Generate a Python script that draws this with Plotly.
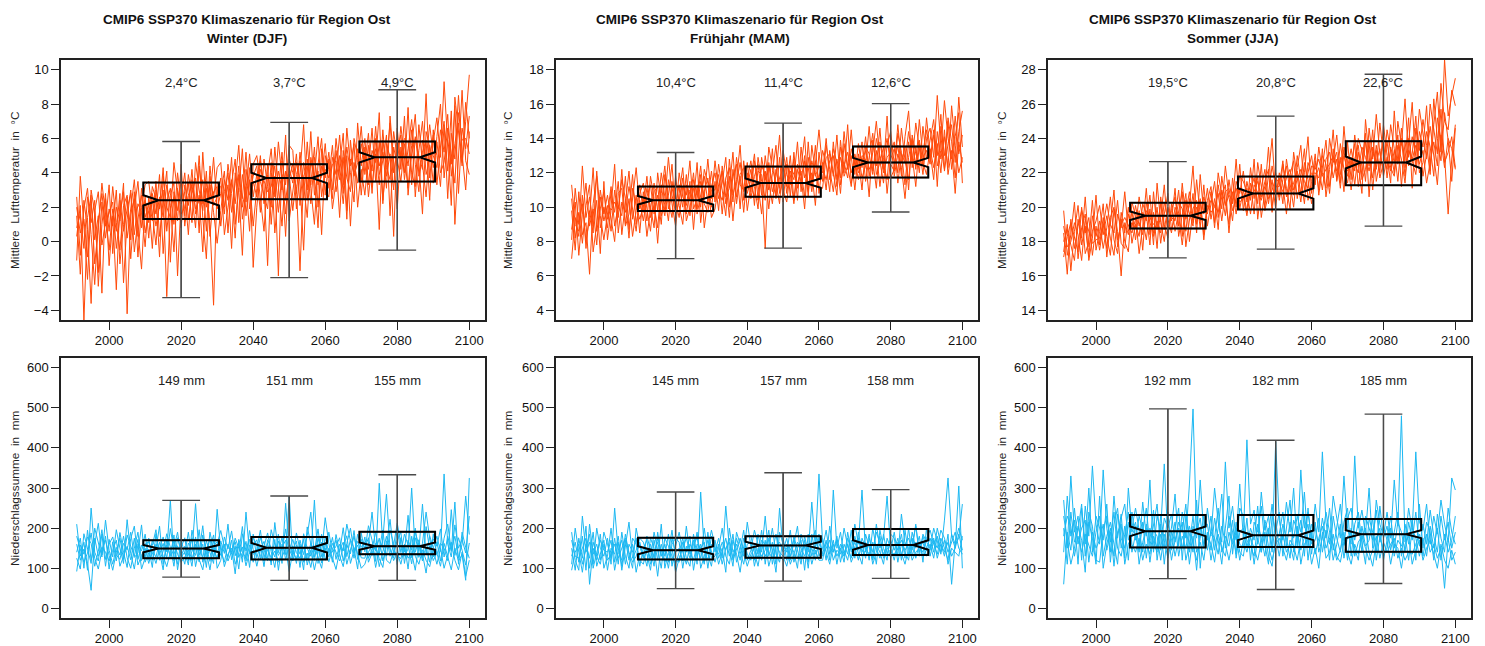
import plotly.graph_objects as go

# ---------------------------------------------------------------- data
FIRST_YEAR = 1991

# Winter (DJF) mean temperature, one list per model run (1991..2100)
TEMP_DJF = [
    [2.6, -0.8, 1.9, 3.1, 0.4, -2.5, 1.2, 2.8, 0.9, 1.7,
     2.3, -0.4, 1.5, 2.9, 0.2, 1.8, 3.6, 0.7, -1.6, 2.4,
     1.1, 3.2, 2.5, -0.9, 3.8, 2.0, 1.4, 4.6, 2.9, 0.8,
     3.3, 2.1, 4.2, 1.6, 2.7, -0.6, 3.5, 2.4, 4.9, 1.9,
     2.8, 4.1, 0.5, 3.6, 2.2, 4.4, 1.3, 3.0, 5.1, 2.6,
     3.9, 1.7, 4.8, 3.2, 2.0, 5.5, 3.4, 0.9, 4.1, 3.6,
     4.5, 2.8, 5.2, 3.1, 1.4, 4.9, 3.8, 6.1, 2.6, 4.2,
     3.7, 5.6, 2.9, 4.4, 6.3, 1.8, 4.8, 3.9, 5.4, 2.7,
     5.1, 4.2, 6.6, 3.5, 5.8, 2.4, 4.9, 6.9, 4.0, 5.3,
     6.2, 3.6, 5.4, 7.1, 4.5, 2.9, 5.9, 4.7, 6.8, 5.0,
     4.3, 6.5, 5.2, 7.4, 3.8, 5.7, 6.9, 4.6, 8.1, 6.0],
    [0.3, 2.1, -4.6, 1.4, 2.7, -1.3, 0.8, 3.4, 1.6, -0.5,
     1.9, 0.6, 2.8, -2.4, 1.3, 3.0, 0.4, 2.2, 1.7, -0.3,
     2.6, 1.2, 3.5, 0.3, 2.4, 4.1, -1.2, 2.9, 1.8, 3.6,
     1.5, 3.9, 2.6, 0.8, 4.4, 2.2, 3.1, 1.0, -3.7, 3.4,
     3.2, 1.6, 4.5, 2.8, 0.2, 3.9, 2.5, 5.2, 1.9, 3.5,
     2.6, 4.7, 3.3, -1.4, 4.0, 2.9, 5.8, 3.7, 1.6, 4.3,
     3.4, 5.1, 2.1, 4.6, 3.0, 6.4, 2.7, 4.1, 0.4, 5.0,
     4.2, 2.5, 5.3, 3.6, 4.9, 1.3, 5.9, 3.8, 4.6, 6.7,
     3.9, 5.6, 2.8, 6.0, 4.4, 5.2, 3.1, 7.3, 4.7, 1.9,
     5.5, 4.0, 7.8, 3.3, 6.1, 5.0, 4.2, 8.6, 3.7, 5.8,
     7.2, 4.9, 9.3, 5.6, 2.1, 8.4, 6.2, 4.4, 7.0, 9.7],
    [1.5, -1.9, 2.4, 0.7, -3.6, 1.8, 2.9, -0.2, 1.1, 3.3,
     -0.7, 2.0, 1.2, 3.4, -4.2, 1.6, 2.5, 0.3, 3.1, 1.4,
     2.2, -0.4, 3.0, 1.9, 4.3, 0.6, 2.7, 3.4, -2.0, 2.5,
     4.0, 1.3, 2.8, 3.7, 0.5, 5.2, 2.0, 3.3, 1.7, -0.1,
     1.8, 3.6, 2.4, 4.9, 1.0, 3.1, -0.8, 4.2, 2.7, 3.8,
     4.4, 2.3, 0.6, 3.9, 5.4, 2.6, 4.1, 3.0, 6.2, 1.2,
     2.9, 4.6, 3.5, -0.5, 4.8, 3.3, 5.5, 2.0, 4.4, 3.7,
     5.2, 3.0, 6.0, 4.1, 2.2, 5.0, 0.9, 4.6, 3.4, 5.7,
     4.6, 6.3, 3.2, 5.1, 0.7, 5.9, 4.3, 3.6, 6.4, 4.8,
     3.5, 5.7, 4.4, 6.5, 2.6, 5.3, 7.0, 3.9, 4.8, 6.2,
     5.0, 3.2, 6.8, 4.1, 7.6, 1.0, 5.3, 8.8, 4.7, 3.9],
    [-1.1, 3.8, 0.9, -2.2, 2.2, 0.1, 1.5, -3.0, 2.5, 0.6,
     3.2, 1.1, -0.5, 2.1, 2.7, -1.0, 1.9, 3.5, 0.8, 2.6,
     0.2, 2.8, 1.6, 3.9, -0.7, 2.3, 3.1, 1.0, 4.0, 2.2,
     2.9, 0.4, 3.6, 2.3, 5.0, 1.4, -1.0, 3.8, 2.5, 4.3,
     4.6, 2.0, 3.3, -0.4, 4.0, 2.9, 5.4, 1.5, 3.6, 0.9,
     3.1, 5.0, 2.2, 4.5, 1.0, 3.8, -2.0, 4.7, 3.3, 5.6,
     5.3, 1.9, 4.0, 6.8, 2.4, 4.7, 3.6, 0.8, 5.4, 3.0,
     2.6, 4.9, 3.9, 6.2, 3.3, 5.5, 4.0, 2.3, 6.9, 4.4,
     6.0, 3.3, 5.3, 4.6, 7.5, 2.2, 5.7, 4.9, 3.0, 6.6,
     4.2, 7.3, 2.7, 5.1, 6.0, 4.6, 1.6, 6.4, 5.5, 3.4,
     6.1, 8.0, 3.7, 5.9, 4.5, 7.9, 2.8, 6.6, 5.4, 7.3],
    [2.0, 0.5, 1.3, -0.9, 3.0, 1.7, -1.8, 2.3, 0.2, 1.9,
     0.9, 3.0, -1.3, 1.0, 2.6, 0.1, 2.9, -0.9, 2.0, 3.3,
     3.5, 1.7, -0.2, 2.6, 1.4, 3.3, 2.1, -0.6, 3.1, 1.6,
     2.0, 3.4, 1.1, 4.6, 3.0, 1.8, 4.1, 0.3, 2.9, 3.2,
     0.9, 2.9, 4.0, 1.7, 3.4, 5.6, 2.0, 3.2, 0.6, 4.5,
     5.0, 3.5, 2.7, 1.9, 4.6, 0.5, 3.0, 5.2, 2.4, 3.9,
     1.8, 3.9, 4.7, 2.5, 5.8, 3.1, 1.0, 4.5, 6.0, 2.7,
     4.8, 1.9, 3.5, 5.0, 2.8, 6.6, 4.4, 5.7, 2.0, 4.2,
     2.7, 5.0, 4.1, 6.7, 3.9, 4.7, 6.2, 1.5, 5.5, 4.4,
     6.7, 4.8, 3.1, 5.6, 7.4, 3.8, 5.2, 5.9, 2.4, 6.5,
     3.3, 5.5, 7.0, 2.5, 6.3, 4.8, 8.5, 5.1, 3.0, 6.4],
    [0.8, 1.6, -0.4, 2.6, 1.1, 2.4, -2.6, 1.0, 2.8, -1.4,
     1.5, -2.8, 2.4, 0.6, 1.9, 2.8, -0.6, 1.3, 2.7, 0.5,
     1.8, 2.4, 0.9, 2.1, 3.0, -3.2, 1.9, 2.6, 1.2, 4.5,
     0.9, 2.7, 3.3, 1.9, 2.4, 3.6, 0.6, 4.4, 2.1, 2.6,
     3.7, 0.4, 2.0, 3.3, 4.8, 1.1, 3.9, 2.3, 4.3, -1.5,
     2.0, 4.2, 3.6, 2.9, 3.2, 4.4, 1.7, 3.9, 0.3, 4.8,
     4.0, 3.2, -1.7, 3.8, 4.4, 2.2, 4.9, 3.3, 3.8, 5.7,
     3.1, 4.5, 4.7, 1.4, 5.3, 3.7, 2.9, 6.0, 4.9, 3.5,
     5.5, 2.6, 4.7, 5.4, 3.3, 6.5, 3.8, 5.1, 0.3, 5.9,
     4.9, 6.0, 5.8, 4.0, 3.2, 6.8, 4.5, 2.6, 5.6, 4.3,
     5.8, 4.0, 4.6, 6.6, 5.1, 3.4, 7.5, 5.9, 6.0, 5.1],
]

# Spring (MAM) mean temperature
TEMP_MAM = [
    [8.7, 10.3, 7.2, 9.6, 11.4, 8.9, 9.9, 7.8, 10.6, 9.2,
     10.1, 8.6, 11.0, 9.4, 12.2, 9.0, 10.5, 8.3, 9.8, 11.3,
     9.7, 11.1, 10.0, 8.8, 12.0, 10.4, 9.5, 11.6, 10.2, 8.9,
     10.8, 12.3, 9.6, 11.0, 10.3, 12.6, 9.1, 10.9, 11.7, 10.0,
     11.5, 9.8, 12.4, 10.6, 11.1, 13.2, 10.2, 11.8, 9.7, 12.0,
     10.9, 12.7, 11.3, 9.6, 12.1, 11.0, 13.4, 10.5, 11.7, 12.3,
     11.2, 13.0, 10.4, 12.5, 11.8, 9.9, 12.9, 11.4, 13.6, 10.8,
     12.6, 11.0, 13.3, 12.0, 10.7, 13.9, 11.8, 12.4, 11.2, 13.1,
     12.2, 13.8, 11.5, 12.9, 14.3, 11.9, 12.6, 13.5, 10.8, 12.8,
     13.4, 12.0, 14.6, 12.7, 11.6, 13.9, 12.4, 15.1, 12.9, 13.3,
     12.5, 14.2, 13.0, 15.4, 12.1, 13.7, 14.8, 12.6, 16.4, 13.5],
    [9.8, 7.5, 10.9, 8.4, 9.1, 6.1, 10.2, 11.8, 8.8, 10.0,
     8.8, 10.9, 9.7, 11.5, 8.4, 10.2, 12.1, 9.3, 10.7, 8.5,
     10.9, 9.2, 11.8, 10.5, 7.9, 10.8, 12.4, 9.9, 11.1, 10.3,
     9.4, 11.2, 10.7, 12.7, 9.9, 10.5, 11.9, 8.8, 10.6, 12.1,
     10.3, 12.5, 11.0, 9.5, 12.8, 10.7, 11.6, 13.6, 10.4, 11.2,
     12.2, 10.1, 12.9, 11.5, 7.6, 12.6, 10.9, 11.8, 14.2, 11.0,
     10.3, 12.1, 11.6, 13.8, 10.9, 12.7, 11.3, 12.0, 10.1, 13.2,
     11.5, 13.6, 12.2, 10.9, 12.8, 11.7, 14.4, 12.3, 13.0, 11.0,
     13.1, 11.7, 12.4, 14.7, 12.1, 13.3, 11.2, 12.9, 14.0, 12.5,
     12.1, 14.3, 13.2, 11.3, 13.8, 12.6, 14.9, 13.4, 11.9, 14.0,
     14.6, 12.9, 16.5, 13.5, 12.2, 15.2, 13.8, 11.7, 14.4, 15.6],
    [7.0, 9.4, 8.3, 10.7, 7.6, 9.8, 8.5, 12.1, 9.5, 8.1,
     9.6, 11.2, 8.9, 10.1, 9.5, 11.8, 8.7, 10.4, 12.3, 9.9,
     10.5, 8.3, 10.0, 11.4, 9.8, 12.0, 10.6, 9.2, 11.5, 10.1,
     11.3, 10.0, 11.9, 9.5, 11.6, 10.7, 12.4, 10.2, 9.7, 11.2,
     12.0, 10.5, 11.4, 12.9, 10.0, 11.8, 12.5, 9.9, 12.7, 10.8,
     11.6, 13.1, 10.4, 12.4, 11.9, 9.9, 12.0, 13.6, 10.8, 11.5,
     12.9, 10.6, 13.2, 11.1, 12.3, 14.1, 10.9, 12.7, 11.8, 12.4,
     12.0, 14.0, 11.6, 13.4, 12.6, 10.8, 13.7, 12.2, 14.5, 11.9,
     13.7, 12.3, 14.1, 11.8, 13.2, 15.0, 12.7, 11.4, 13.6, 14.4,
     12.5, 13.6, 11.8, 14.1, 15.6, 12.3, 13.5, 12.0, 14.7, 12.8,
     13.9, 15.1, 12.4, 13.3, 16.2, 14.0, 12.8, 15.3, 13.1, 14.2],
    [10.5, 8.2, 9.7, 7.9, 10.1, 11.3, 7.4, 9.0, 11.0, 9.6,
     10.7, 9.2, 8.0, 10.8, 11.1, 8.9, 9.6, 11.9, 9.0, 10.4,
     9.2, 10.6, 11.3, 9.6, 10.7, 9.0, 11.9, 10.4, 9.4, 11.8,
     10.1, 9.0, 11.3, 10.4, 12.0, 9.6, 10.8, 11.8, 10.3, 11.0,
     11.0, 11.9, 9.6, 11.7, 12.3, 10.3, 12.9, 11.3, 11.0, 12.6,
     10.5, 11.8, 12.5, 10.7, 13.0, 11.4, 10.2, 12.2, 11.1, 13.3,
     11.9, 11.3, 12.8, 10.4, 13.5, 11.7, 12.3, 10.9, 12.7, 11.6,
     13.3, 12.5, 10.9, 13.8, 11.6, 12.9, 12.0, 14.8, 11.4, 12.7,
     11.6, 13.0, 12.8, 10.6, 13.9, 12.4, 14.6, 12.0, 12.9, 13.2,
     13.8, 11.4, 13.1, 12.6, 14.4, 13.0, 11.2, 13.7, 12.4, 15.2,
     13.2, 11.6, 14.4, 12.8, 14.1, 12.3, 15.9, 13.6, 12.0, 12.9],
    [8.1, 11.1, 9.0, 10.2, 8.0, 9.4, 12.3, 8.6, 9.9, 10.9,
     9.3, 10.0, 12.5, 8.5, 10.3, 9.7, 11.2, 10.0, 8.6, 10.8,
     11.4, 9.9, 8.6, 10.9, 11.2, 9.5, 10.3, 12.9, 10.7, 9.7,
     12.0, 10.6, 10.1, 11.5, 8.7, 11.3, 10.0, 12.2, 11.4, 9.4,
     9.9, 11.3, 12.1, 10.2, 11.8, 9.2, 11.4, 12.6, 10.9, 11.6,
     12.7, 11.2, 9.9, 12.9, 11.6, 12.4, 11.4, 10.6, 12.9, 10.3,
     12.5, 11.9, 10.2, 12.2, 11.5, 13.0, 10.6, 13.6, 12.0, 11.0,
     11.1, 12.9, 13.1, 11.8, 14.2, 11.3, 12.6, 11.7, 13.4, 12.5,
     12.8, 11.0, 13.5, 13.1, 11.9, 14.0, 13.0, 12.2, 15.3, 11.7,
     12.2, 14.8, 12.6, 13.5, 11.0, 14.2, 13.1, 12.5, 13.2, 14.5,
     12.7, 14.5, 11.2, 14.7, 13.0, 15.0, 12.2, 14.1, 15.5, 11.4],
    [11.3, 9.0, 8.6, 12.4, 9.4, 10.6, 8.9, 10.4, 7.3, 11.5,
     8.1, 9.8, 10.3, 9.9, 11.6, 10.5, 8.2, 11.1, 10.1, 9.3,
     10.0, 11.8, 9.4, 10.1, 8.8, 11.3, 9.8, 10.7, 12.5, 9.5,
     10.4, 11.7, 9.2, 10.0, 11.1, 9.9, 11.5, 10.6, 12.8, 10.5,
     12.7, 10.9, 10.4, 11.5, 9.4, 12.2, 10.6, 11.9, 12.3, 9.8,
     11.3, 10.6, 12.1, 11.9, 10.4, 13.5, 12.3, 11.4, 10.2, 12.8,
     10.8, 12.4, 11.9, 11.4, 12.1, 10.6, 13.8, 11.2, 12.5, 14.5,
     12.3, 11.6, 12.7, 13.0, 11.2, 13.5, 12.4, 13.2, 12.0, 12.9,
     12.0, 12.6, 13.3, 12.2, 12.7, 11.1, 13.8, 12.5, 11.6, 13.9,
     11.8, 13.1, 12.3, 10.5, 12.9, 14.0, 12.2, 13.9, 12.6, 11.9,
     13.4, 12.3, 13.7, 12.0, 14.5, 11.9, 13.3, 10.8, 13.8, 12.6],
]

# Summer (JJA) mean temperature
TEMP_JJA = [
    [17.4, 19.0, 16.3, 18.6, 20.1, 17.8, 18.9, 17.1, 19.5, 18.3,
     19.2, 17.6, 18.8, 20.6, 18.1, 17.3, 19.7, 18.5, 20.0, 17.9,
     19.0, 18.3, 20.2, 19.6, 17.8, 20.9, 18.7, 19.4, 21.3, 18.6,
     19.8, 20.6, 18.9, 21.4, 19.3, 20.1, 22.4, 19.0, 20.5, 18.4,
     20.4, 21.2, 19.1, 22.0, 20.7, 19.5, 21.6, 20.2, 22.8, 19.9,
     21.0, 19.7, 22.3, 20.5, 21.8, 19.4, 20.9, 23.5, 20.1, 21.4,
     20.6, 22.5, 21.1, 19.9, 23.2, 21.6, 20.3, 22.0, 24.1, 20.8,
     22.7, 21.0, 23.4, 20.6, 22.2, 24.5, 21.5, 22.9, 20.9, 23.8,
     21.6, 24.2, 22.5, 20.8, 25.1, 22.9, 21.7, 23.6, 22.0, 24.8,
     23.0, 21.4, 25.6, 22.6, 24.0, 21.8, 23.7, 26.1, 22.3, 24.4,
     23.5, 25.9, 22.1, 24.8, 26.7, 23.2, 28.6, 25.3, 26.5, 27.5],
    [19.8, 17.2, 18.4, 20.3, 17.0, 18.8, 19.6, 16.9, 18.2, 20.7,
     17.8, 19.4, 18.3, 17.2, 19.9, 18.6, 16.0, 19.1, 18.4, 19.8,
     18.1, 19.8, 17.5, 20.3, 19.1, 18.5, 20.0, 17.9, 19.6, 20.8,
     18.7, 19.4, 21.0, 18.3, 20.4, 19.7, 18.9, 21.6, 19.5, 20.3,
     19.6, 20.9, 18.8, 21.3, 19.9, 22.4, 20.6, 19.2, 21.5, 20.8,
     22.1, 20.3, 21.4, 19.6, 22.6, 21.2, 20.0, 21.9, 24.0, 20.7,
     21.7, 20.2, 22.8, 21.4, 20.0, 22.3, 23.6, 21.0, 22.1, 23.0,
     21.3, 23.5, 22.0, 21.1, 24.0, 22.6, 23.2, 21.4, 24.7, 22.3,
     23.4, 22.1, 24.0, 23.3, 21.5, 24.6, 22.8, 25.4, 23.1, 22.2,
     24.5, 23.2, 22.0, 25.0, 23.6, 26.3, 22.9, 24.1, 23.0, 25.7,
     24.2, 22.8, 26.0, 24.4, 23.1, 27.2, 25.0, 24.5, 26.8, 25.9],
    [18.5, 16.1, 19.3, 17.6, 18.9, 19.8, 17.3, 18.0, 20.4, 17.5,
     18.6, 20.2, 17.1, 18.9, 21.0, 17.7, 19.3, 18.0, 17.4, 20.3,
     19.5, 17.3, 18.9, 21.1, 18.4, 19.7, 17.6, 20.6, 19.0, 18.2,
     20.2, 18.6, 19.8, 20.9, 17.7, 19.2, 20.8, 18.5, 21.9, 19.6,
     21.1, 19.3, 20.5, 18.7, 21.8, 20.3, 19.0, 21.7, 20.0, 22.5,
     19.8, 21.5, 20.4, 22.8, 19.3, 21.1, 22.2, 20.2, 21.6, 19.9,
     22.0, 21.3, 19.6, 21.9, 22.7, 20.5, 21.8, 23.4, 20.4, 21.5,
     23.1, 20.7, 22.4, 23.9, 21.2, 22.8, 24.2, 21.9, 23.0, 22.1,
     22.4, 23.7, 21.2, 22.7, 24.3, 20.6, 23.5, 22.2, 24.9, 23.0,
     22.2, 24.8, 23.4, 21.5, 23.9, 22.7, 25.2, 21.1, 24.6, 23.3,
     25.1, 23.6, 21.9, 26.3, 24.0, 22.7, 25.5, 23.9, 21.5, 24.6],
    [18.0, 18.7, 17.8, 16.9, 19.3, 18.2, 20.6, 17.7, 18.6, 19.2,
     20.1, 18.4, 19.5, 18.2, 17.2, 19.6, 18.8, 20.9, 18.6, 19.1,
     18.8, 20.6, 19.3, 18.1, 19.9, 17.8, 21.4, 19.1, 18.0, 19.9,
     19.2, 21.1, 18.3, 19.6, 20.8, 18.0, 19.9, 20.4, 18.8, 21.3,
     18.9, 20.2, 21.5, 19.4, 20.6, 21.3, 18.5, 20.9, 19.6, 21.1,
     20.6, 19.5, 21.0, 21.7, 20.2, 22.5, 19.8, 20.8, 22.4, 21.2,
     21.2, 22.7, 20.6, 21.8, 20.7, 23.0, 21.5, 20.2, 22.6, 21.9,
     22.0, 21.7, 23.0, 22.5, 20.8, 23.4, 21.6, 23.7, 22.2, 21.4,
     22.9, 21.3, 23.2, 21.9, 23.8, 22.4, 24.5, 21.5, 22.7, 23.9,
     21.7, 23.5, 22.6, 24.2, 21.2, 23.8, 22.4, 23.1, 25.3, 22.0,
     22.6, 24.4, 23.5, 21.8, 25.2, 23.9, 22.3, 24.0, 23.4, 22.2],
    [17.1, 18.3, 19.1, 18.2, 17.4, 20.0, 18.5, 19.4, 17.2, 18.9,
     17.5, 18.9, 20.2, 19.0, 18.5, 20.4, 17.9, 17.6, 19.6, 18.8,
     20.1, 18.9, 19.7, 19.2, 20.7, 18.3, 19.2, 18.5, 20.3, 19.3,
     18.5, 20.0, 19.5, 17.8, 19.7, 20.9, 19.4, 19.7, 20.4, 18.1,
     20.1, 19.7, 20.0, 20.8, 19.2, 20.9, 21.1, 19.8, 20.5, 21.8,
     21.5, 20.9, 19.6, 21.3, 20.8, 20.4, 21.5, 22.2, 19.7, 22.0,
     20.4, 21.6, 22.4, 20.9, 21.4, 22.1, 20.8, 22.6, 21.6, 20.2,
     21.7, 22.3, 21.0, 22.8, 23.2, 21.7, 22.8, 21.1, 23.5, 22.7,
     21.0, 22.8, 23.6, 21.6, 22.2, 23.8, 21.0, 23.3, 21.7, 22.6,
     23.8, 22.3, 21.8, 23.6, 22.8, 21.4, 24.0, 22.7, 21.9, 23.9,
     21.8, 23.1, 24.7, 22.9, 21.3, 24.2, 23.0, 19.6, 22.8, 24.8],
    [18.9, 17.7, 18.0, 19.1, 18.4, 16.9, 19.3, 18.6, 17.9, 18.1,
     18.2, 19.0, 17.6, 19.4, 20.0, 18.1, 19.0, 19.4, 18.9, 18.5,
     19.3, 19.1, 18.4, 19.8, 19.4, 19.0, 18.8, 20.2, 18.7, 20.0,
     19.4, 19.2, 20.3, 19.9, 18.6, 20.5, 19.1, 20.0, 19.2, 20.6,
     19.8, 20.4, 20.1, 19.7, 21.0, 20.1, 20.7, 20.4, 21.1, 20.3,
     20.5, 21.1, 20.8, 20.9, 21.5, 20.6, 21.2, 20.5, 21.0, 21.7,
     21.4, 20.9, 21.7, 22.2, 21.0, 21.6, 22.2, 21.5, 21.1, 22.4,
     22.2, 22.8, 21.8, 22.2, 22.5, 23.0, 22.1, 22.6, 23.3, 21.8,
     22.6, 22.5, 22.0, 23.5, 22.9, 22.1, 23.2, 22.6, 23.4, 21.8,
     22.9, 22.1, 23.3, 22.5, 24.6, 22.3, 23.3, 22.8, 23.6, 22.5,
     23.3, 21.4, 22.5, 23.8, 22.4, 25.7, 22.6, 23.2, 24.1, 22.3],
]

# Winter (DJF) precipitation sum
PREC_DJF = [
    [210, 130, 165, 95, 250, 140, 118, 185, 105, 172,
     128, 196, 150, 112, 221, 136, 98, 160, 143, 185,
     122, 170, 148, 205, 110, 158, 131, 183, 96, 152,
     176, 118, 142, 261, 133, 160, 102, 190, 145, 125,
     168, 137, 210, 121, 155, 98, 186, 143, 172, 115,
     149, 195, 126, 163, 108, 214, 139, 177, 121, 158,
     131, 188, 146, 96, 203, 157, 120, 175, 140, 226,
     162, 115, 184, 140, 201, 129, 172, 150, 98, 188,
     141, 206, 170, 117, 312, 152, 130, 195, 161, 109,
     176, 140, 232, 126, 190, 158, 118, 204, 147, 173,
     155, 198, 128, 180, 142, 265, 110, 190, 152, 125],
    [140, 175, 100, 195, 120, 160, 212, 133, 180, 98,
     166, 118, 189, 140, 102, 174, 205, 122, 158, 137,
     148, 102, 186, 134, 162, 125, 199, 144, 110, 171,
     135, 190, 119, 160, 143, 206, 124, 150, 183, 100,
     120, 178, 148, 193, 131, 163, 115, 240, 136, 157,
     171, 123, 154, 188, 141, 102, 168, 145, 198, 131,
     156, 112, 170, 134, 182, 240, 128, 161, 113, 179,
     137, 177, 122, 160, 143, 210, 168, 125, 185, 152,
     166, 125, 148, 190, 137, 172, 285, 146, 126, 199,
     139, 185, 158, 111, 176, 142, 260, 133, 181, 150,
     180, 142, 335, 160, 128, 208, 150, 172, 138, 230],
    [125, 98, 186, 150, 112, 200, 165, 128, 220, 145,
     110, 152, 133, 180, 126, 100, 150, 190, 119, 162,
     165, 138, 112, 150, 178, 141, 270, 118, 156, 130,
     155, 132, 176, 104, 149, 127, 168, 139, 112, 247,
     143, 115, 160, 135, 175, 150, 128, 167, 102, 185,
     126, 158, 104, 171, 150, 128, 185, 112, 262, 146,
     172, 139, 125, 153, 120, 163, 142, 198, 129, 150,
     116, 148, 170, 131, 104, 158, 136, 194, 122, 172,
     150, 176, 132, 162, 104, 146, 180, 130, 158, 212,
     160, 130, 148, 300, 140, 171, 126, 152, 115, 186,
     135, 162, 150, 119, 246, 132, 176, 145, 108, 163],
    [92, 158, 135, 178, 162, 105, 142, 196, 122, 160,
     178, 133, 122, 162, 146, 190, 127, 138, 208, 115,
     138, 157, 196, 120, 142, 186, 152, 105, 176, 145,
     110, 163, 149, 132, 196, 115, 146, 173, 128, 158,
     194, 152, 127, 170, 110, 138, 204, 118, 158, 135,
     140, 176, 144, 118, 196, 159, 132, 150, 170, 115,
     145, 168, 102, 186, 150, 130, 270, 112, 165, 138,
     190, 140, 155, 176, 118, 162, 200, 139, 158, 126,
     125, 160, 240, 143, 175, 118, 155, 222, 136, 170,
     190, 112, 170, 146, 200, 127, 162, 240, 175, 128,
     166, 118, 175, 210, 145, 180, 126, 160, 280, 184],
    [160, 120, 148, 112, 45, 175, 130, 152, 140, 118,
     145, 170, 105, 132, 155, 121, 175, 108, 132, 150,
     112, 146, 128, 165, 130, 104, 141, 168, 135, 115,
     128, 146, 105, 178, 122, 96, 152, 117, 168, 140,
     158, 104, 135, 150, 86, 172, 140, 125, 194, 147,
     105, 145, 167, 126, 116, 172, 95, 160, 134, 280,
     118, 158, 135, 172, 108, 145, 96, 138, 185, 120,
     150, 126, 97, 145, 165, 110, 142, 180, 135, 100,
     110, 140, 158, 102, 148, 195, 120, 112, 145, 132,
     124, 160, 98, 180, 130, 110, 146, 120, 104, 145,
     110, 150, 100, 135, 165, 120, 96, 140, 80, 120],
    [180, 145, 115, 138, 188, 125, 98, 145, 170, 132,
     95, 140, 175, 122, 183, 155, 130, 172, 98, 126,
     175, 120, 160, 140, 96, 172, 124, 150, 190, 128,
     140, 108, 195, 150, 116, 183, 135, 96, 157, 166,
     132, 160, 118, 144, 166, 127, 153, 106, 142, 176,
     158, 132, 118, 147, 126, 143, 115, 128, 150, 92,
     140, 124, 160, 115, 138, 102, 154, 127, 100, 162,
     128, 162, 140, 118, 153, 181, 112, 145, 167, 138,
     178, 115, 138, 155, 124, 102, 168, 150, 119, 140,
     110, 152, 125, 138, 95, 162, 136, 88, 156, 119,
     138, 105, 162, 128, 96, 150, 118, 134, 70, 325],
]

# Spring (MAM) precipitation sum
PREC_MAM = [
    [190, 120, 95, 230, 140, 165, 110, 200, 150, 130,
     175, 110, 250, 140, 120, 185, 135, 100, 200, 155,
     125, 180, 145, 105, 190, 130, 160, 115, 175, 140,
     150, 118, 205, 135, 170, 110, 290, 145, 120, 180,
     140, 175, 125, 255, 150, 105, 190, 160, 130, 215,
     155, 120, 185, 140, 230, 130, 165, 110, 250, 145,
     175, 130, 160, 205, 120, 180, 140, 265, 150, 185,
     135, 170, 120, 295, 150, 190, 130, 175, 145, 210,
     160, 295, 140, 185, 125, 210, 150, 175, 280, 145,
     190, 130, 235, 160, 175, 145, 210, 130, 185, 165,
     150, 200, 170, 135, 220, 325, 180, 150, 305, 100],
    [150, 95, 175, 125, 205, 60, 150, 120, 185, 100,
     130, 200, 115, 165, 95, 150, 215, 125, 145, 175,
     165, 135, 95, 170, 120, 210, 100, 140, 195, 120,
     115, 165, 140, 180, 95, 150, 125, 200, 135, 105,
     170, 125, 150, 90, 200, 140, 160, 120, 175, 135,
     120, 160, 135, 195, 110, 175, 145, 90, 190, 160,
     140, 195, 115, 150, 170, 95, 185, 130, 160, 335,
     165, 120, 205, 140, 180, 115, 160, 135, 195, 125,
     190, 140, 165, 120, 200, 150, 125, 185, 135, 170,
     145, 175, 120, 195, 135, 160, 205, 140, 180, 150,
     175, 140, 200, 160, 130, 185, 60, 165, 200, 170],
    [110, 200, 140, 90, 160, 125, 190, 105, 135, 170,
     95, 150, 135, 180, 105, 170, 120, 160, 90, 135,
     140, 105, 175, 150, 80, 160, 130, 185, 105, 155,
     190, 140, 110, 160, 145, 190, 100, 130, 170, 145,
     115, 150, 200, 130, 110, 170, 135, 90, 155, 180,
     180, 140, 105, 160, 130, 150, 200, 135, 115, 175,
     120, 160, 140, 100, 185, 150, 115, 170, 195, 130,
     150, 195, 135, 170, 110, 160, 145, 120, 170, 150,
     120, 175, 150, 135, 165, 110, 195, 150, 120, 185,
     175, 115, 160, 140, 120, 190, 150, 180, 115, 200,
     130, 170, 150, 195, 175, 140, 165, 190, 150, 135],
    [130, 165, 115, 180, 95, 210, 135, 160, 120, 190,
     160, 125, 175, 110, 190, 130, 100, 175, 160, 120,
     110, 150, 125, 190, 145, 100, 175, 155, 130, 110,
     140, 175, 125, 105, 185, 130, 160, 115, 150, 195,
     155, 110, 140, 175, 130, 185, 115, 145, 195, 120,
     145, 195, 160, 120, 170, 105, 140, 185, 130, 120,
     160, 120, 180, 145, 110, 170, 130, 150, 120, 175,
     130, 150, 170, 120, 145, 135, 200, 155, 125, 180,
     145, 160, 125, 175, 140, 190, 165, 135, 160, 125,
     160, 145, 185, 125, 200, 130, 165, 155, 140, 175,
     195, 160, 135, 175, 150, 120, 185, 160, 175, 260],
    [95, 140, 160, 110, 150, 185, 100, 140, 170, 145,
     140, 170, 95, 145, 170, 110, 160, 140, 175, 105,
     150, 170, 110, 135, 165, 130, 145, 100, 160, 175,
     165, 100, 155, 125, 160, 175, 140, 110, 190, 125,
     130, 160, 110, 150, 165, 125, 175, 140, 110, 160,
     165, 105, 150, 130, 145, 195, 110, 160, 140, 130,
     105, 145, 170, 125, 140, 160, 100, 185, 135, 155,
     175, 140, 110, 160, 130, 150, 115, 190, 140, 165,
     135, 110, 185, 150, 120, 160, 140, 110, 175, 150,
     120, 165, 140, 110, 150, 175, 125, 160, 130, 145,
     160, 125, 180, 140, 170, 110, 150, 140, 130, 180],
    [170, 130, 125, 150, 175, 100, 165, 130, 110, 160,
     120, 135, 160, 125, 150, 175, 140, 115, 130, 165,
     130, 120, 160, 125, 175, 145, 115, 135, 150, 90,
     125, 150, 175, 140, 120, 160, 150, 165, 100, 160,
     150, 135, 165, 145, 175, 120, 150, 175, 140, 105,
     135, 150, 125, 170, 160, 140, 125, 155, 165, 140,
     150, 110, 135, 165, 150, 130, 160, 110, 145, 120,
     120, 165, 150, 140, 170, 145, 130, 160, 115, 140,
     175, 130, 145, 160, 110, 140, 180, 125, 150, 140,
     135, 150, 170, 145, 160, 120, 140, 150, 165, 130,
     145, 175, 125, 160, 140, 165, 130, 150, 185, 145],
]

# Summer (JJA) precipitation sum
PREC_JJA = [
    [270, 150, 330, 190, 230, 120, 255, 180, 355, 210,
     160, 345, 200, 140, 280, 175, 235, 125, 300, 190,
     215, 150, 265, 180, 320, 140, 230, 195, 360, 170,
     200, 285, 155, 240, 175, 310, 497, 190, 225, 150,
     250, 180, 300, 215, 165, 365, 200, 255, 170, 310,
     175, 420, 210, 245, 160, 290, 195, 230, 150, 415,
     220, 170, 265, 190, 300, 150, 345, 200, 240, 175,
     260, 190, 390, 215, 160, 280, 225, 175, 330, 200,
     160, 380, 200, 245, 185, 300, 150, 270, 210, 180,
     240, 175, 320, 205, 480, 165, 250, 195, 390, 215,
     195, 260, 160, 230, 185, 270, 210, 165, 325, 295],
    [140, 280, 180, 220, 110, 250, 160, 300, 140, 230,
     200, 170, 260, 115, 210, 250, 150, 205, 120, 240,
     170, 230, 195, 250, 155, 210, 260, 145, 225, 200,
     235, 165, 215, 190, 260, 140, 205, 175, 320, 185,
     170, 230, 145, 200, 285, 150, 230, 190, 135, 250,
     230, 150, 200, 170, 255, 140, 220, 185, 260, 170,
     185, 240, 155, 215, 175, 230, 190, 290, 155, 210,
     200, 155, 225, 175, 250, 145, 205, 260, 160, 225,
     250, 170, 215, 140, 230, 200, 170, 245, 165, 205,
     170, 230, 150, 215, 190, 140, 215, 170, 240, 155,
     210, 160, 245, 180, 140, 230, 170, 215, 150, 190],
    [200, 110, 240, 165, 195, 260, 130, 215, 175, 110,
     280, 130, 180, 215, 160, 110, 225, 260, 170, 200,
     250, 190, 140, 210, 170, 245, 120, 185, 150, 240,
     145, 200, 250, 120, 230, 185, 140, 270, 100, 205,
     210, 145, 225, 170, 110, 200, 280, 135, 215, 160,
     150, 225, 120, 215, 190, 255, 160, 110, 230, 190,
     240, 130, 205, 270, 140, 175, 220, 130, 250, 160,
     170, 225, 140, 195, 120, 230, 175, 140, 215, 250,
     130, 210, 240, 165, 110, 225, 190, 140, 255, 175,
     205, 145, 190, 240, 130, 210, 160, 225, 120, 260,
     150, 215, 190, 120, 235, 175, 140, 250, 190, 160],
    [60, 190, 145, 250, 160, 200, 220, 115, 190, 150,
     170, 210, 145, 190, 130, 235, 175, 150, 215, 140,
     185, 140, 215, 125, 200, 165, 140, 230, 170, 125,
     170, 215, 130, 180, 150, 205, 160, 120, 175, 230,
     145, 190, 175, 250, 140, 180, 155, 220, 125, 190,
     200, 170, 155, 130, 210, 175, 130, 200, 140, 220,
     150, 210, 175, 125, 220, 195, 145, 175, 210, 135,
     215, 140, 175, 240, 190, 120, 160, 210, 125, 180,
     180, 150, 120, 205, 155, 170, 225, 120, 180, 140,
     150, 200, 130, 170, 155, 185, 120, 200, 175, 130,
     175, 130, 205, 150, 200, 120, 185, 140, 170, 230],
    [230, 165, 110, 150, 205, 170, 90, 240, 205, 120,
     115, 195, 230, 165, 240, 150, 130, 185, 240, 160,
     140, 175, 120, 160, 135, 195, 180, 120, 185, 145,
     190, 130, 175, 215, 120, 160, 230, 140, 165, 120,
     190, 120, 175, 135, 205, 165, 120, 170, 200, 140,
     130, 190, 175, 150, 120, 165, 210, 155, 120, 160,
     175, 150, 120, 170, 155, 120, 170, 230, 120, 190,
     135, 175, 205, 150, 175, 160, 120, 145, 190, 120,
     200, 130, 165, 180, 150, 120, 145, 180, 125, 165,
     140, 160, 175, 125, 150, 120, 140, 135, 160, 185,
     130, 185, 140, 160, 125, 150, 50, 175, 120, 140],
    [180, 230, 205, 130, 180, 140, 185, 160, 130, 190,
     230, 100, 160, 200, 105, 190, 210, 110, 160, 180,
     205, 110, 165, 200, 115, 180, 150, 210, 110, 195,
     120, 170, 200, 150, 195, 110, 180, 95, 200, 160,
     180, 160, 115, 185, 150, 130, 190, 160, 180, 120,
     170, 140, 180, 110, 175, 140, 190, 130, 105, 180,
     130, 185, 140, 160, 120, 205, 110, 160, 175, 110,
     150, 100, 190, 125, 140, 185, 130, 115, 165, 140,
     110, 160, 135, 175, 200, 140, 105, 165, 200, 120,
     170, 110, 160, 150, 100, 160, 180, 110, 145, 170,
     120, 150, 170, 135, 100, 160, 120, 100, 145, 110],
]

# Box statistics for the periods 2010-2030, 2040-2060, 2070-2090
BOX_X = [2020, 2050, 2080]

T_DJF_Q1 = [1.31, 2.46, 3.49]
T_DJF_MED = [2.4, 3.7, 4.9]
T_DJF_Q3 = [3.43, 4.50, 5.82]
T_DJF_LO = [-3.26, -2.09, -0.50]
T_DJF_HI = [5.82, 6.93, 8.83]
T_DJF_NOTCH = [0.30, 0.30, 0.30]
T_DJF_LABELS = ["2,4°C", "3,7°C", "4,9°C"]

T_MAM_Q1 = [9.78, 10.61, 11.72]
T_MAM_MED = [10.4, 11.4, 12.6]
T_MAM_Q3 = [11.20, 12.36, 13.53]
T_MAM_LO = [7.01, 7.62, 9.72]
T_MAM_HI = [13.18, 14.89, 16.02]
T_MAM_NOTCH = [0.25, 0.27, 0.27]
T_MAM_LABELS = ["10,4°C", "11,4°C", "12,6°C"]

T_JJA_Q1 = [18.76, 19.87, 21.27]
T_JJA_MED = [19.5, 20.8, 22.6]
T_JJA_Q3 = [20.26, 21.78, 23.84]
T_JJA_LO = [17.05, 17.56, 18.90]
T_JJA_HI = [22.65, 25.30, 27.73]
T_JJA_NOTCH = [0.25, 0.30, 0.35]
T_JJA_LABELS = ["19,5°C", "20,8°C", "22,6°C"]

P_DJF_Q1 = [125, 122, 135]
P_DJF_MED = [149, 151, 155]
P_DJF_Q3 = [170, 178, 191]
P_DJF_LO = [78, 70, 70]
P_DJF_HI = [269, 280, 333]
P_DJF_NOTCH = [9, 12, 9]
P_DJF_LABELS = ["149 mm", "151 mm", "155 mm"]

P_MAM_Q1 = [122, 126, 133]
P_MAM_MED = [145, 157, 158]
P_MAM_Q3 = [176, 180, 198]
P_MAM_LO = [49, 68, 75]
P_MAM_HI = [290, 338, 296]
P_MAM_NOTCH = [10, 9, 12]
P_MAM_LABELS = ["145 mm", "157 mm", "158 mm"]

P_JJA_Q1 = [152, 153, 141]
P_JJA_MED = [192, 182, 185]
P_JJA_Q3 = [233, 233, 223]
P_JJA_LO = [74, 47, 62]
P_JJA_HI = [497, 419, 484]
P_JJA_NOTCH = [12, 12, 10]
P_JJA_LABELS = ["192 mm", "182 mm", "185 mm"]

SEASONS = ["Winter (DJF)", "Frühjahr (MAM)", "Sommer (JJA)"]
MAIN_TITLE = "CMIP6 SSP370 Klimaszenario für Region Ost"
TEMP_YTITLE = "Mittlere\u00a0 Lufttemperatur\u00a0 in\u00a0 °C"
PREC_YTITLE = "Niederschlagssumme\u00a0 in\u00a0 mm"
X_TICKS = [2000, 2020, 2040, 2060, 2080, 2100]
T_DJF_LIM = [-4, 10]
T_MAM_LIM = [4, 18]
T_JJA_LIM = [14, 28]
PREC_LIM = [0, 600]

# ---------------------------------------------------------------- styling
# the page body has an 8 px margin, so the figure is shifted by OFF px
OFF = 8
W, H = 1485 - OFF, 646 - OFF
FONT = "Liberation Sans, Arial, Helvetica, sans-serif"
ORANGE = "#FF4A0A"
BLUE = "#1CB8F2"
WHISKER = "#4a4a4a"
FRAME = "#222222"

# positions in page pixels (reference picture)
COL_PX = [(61, 485), (556, 978), (1048, 1471)]
ROW_PX = [(60, 320), (358, 618)]
TITLE_X_PX = [247, 740, 1233]
YTITLE_X_PX = [15, 508, 1002]
TITLE_Y_PX = [19, 38]


def px_x(p):
    return (p - OFF) / W


def px_y(p):
    return 1 - (p - OFF) / H


panels = [
    (TEMP_DJF, ORANGE, T_DJF_Q1, T_DJF_MED, T_DJF_Q3, T_DJF_LO, T_DJF_HI, T_DJF_NOTCH, T_DJF_LABELS, T_DJF_LIM, 2, TEMP_YTITLE),
    (TEMP_MAM, ORANGE, T_MAM_Q1, T_MAM_MED, T_MAM_Q3, T_MAM_LO, T_MAM_HI, T_MAM_NOTCH, T_MAM_LABELS, T_MAM_LIM, 2, TEMP_YTITLE),
    (TEMP_JJA, ORANGE, T_JJA_Q1, T_JJA_MED, T_JJA_Q3, T_JJA_LO, T_JJA_HI, T_JJA_NOTCH, T_JJA_LABELS, T_JJA_LIM, 2, TEMP_YTITLE),
    (PREC_DJF, BLUE, P_DJF_Q1, P_DJF_MED, P_DJF_Q3, P_DJF_LO, P_DJF_HI, P_DJF_NOTCH, P_DJF_LABELS, PREC_LIM, 100, PREC_YTITLE),
    (PREC_MAM, BLUE, P_MAM_Q1, P_MAM_MED, P_MAM_Q3, P_MAM_LO, P_MAM_HI, P_MAM_NOTCH, P_MAM_LABELS, PREC_LIM, 100, PREC_YTITLE),
    (PREC_JJA, BLUE, P_JJA_Q1, P_JJA_MED, P_JJA_Q3, P_JJA_LO, P_JJA_HI, P_JJA_NOTCH, P_JJA_LABELS, PREC_LIM, 100, PREC_YTITLE),
]

fig = go.Figure()
layout_axes = {}
annotations = []

all_last = max(FIRST_YEAR + len(s) - 1 for p in panels for s in p[0])
x_pad = 0.04 * (all_last - FIRST_YEAR)
x_range = [FIRST_YEAR - x_pad, all_last + x_pad]
n_panels = len(panels)

for i, (series, color, q1, med, q3, lo, hi, notch, labels, lim, dtick, ytitle) in enumerate(panels):
    row, col = divmod(i, 3)
    k = "" if i == 0 else str(i + 1)
    xa, ya = "x" + k, "y" + k
    ko = str(i + 1 + n_panels)          # overlay axes: drawn above the lines
    xo, yo = "x" + ko, "y" + ko

    for s in series:
        years = list(range(FIRST_YEAR, FIRST_YEAR + len(s)))
        fig.add_trace(go.Scatter(x=years, y=s, mode="lines", xaxis=xa, yaxis=ya,
                                 line=dict(color=color, width=1.0), hoverinfo="skip"))

    common = dict(x=BOX_X, q1=q1, median=med, q3=q3, notched=True, notchspan=notch,
                  notchwidth=0.2, width=21, boxpoints=False, xaxis=xo, yaxis=yo,
                  fillcolor="rgba(0,0,0,0)", hoverinfo="skip")
    # whiskers + caps (grey)
    fig.add_trace(go.Box(lowerfence=lo, upperfence=hi, whiskerwidth=0.5,
                         line=dict(color=WHISKER, width=1.3), **common))
    # full-length whisker line (runs through the box)
    wx, wy = [], []
    for p, l, h in zip(BOX_X, lo, hi):
        wx += [p, p, None]
        wy += [l, h, None]
    fig.add_trace(go.Scatter(x=wx, y=wy, mode="lines", xaxis=xo, yaxis=yo,
                             line=dict(color=WHISKER, width=1.3), hoverinfo="skip"))
    # notched box (black)
    fig.add_trace(go.Box(lowerfence=q1, upperfence=q3, whiskerwidth=0,
                         line=dict(color="black", width=2), **common))

    span = lim[1] - lim[0]
    y_range = [lim[0] - 0.04 * span, lim[1] + 0.04 * span]
    y_ticks = list(range(lim[0], lim[1] + 1, dtick))

    c0, c1 = COL_PX[col]
    r0, r1 = ROW_PX[row]
    xdom = [px_x(c0), px_x(c1)]
    ydom = [px_y(r1), px_y(r0)]
    axis_common = dict(showline=True, mirror=True, linecolor=FRAME, linewidth=1.5,
                       ticks="outside", ticklen=8, tickwidth=1.2, tickcolor=FRAME,
                       showgrid=False, zeroline=False,
                       tickfont=dict(family=FONT, size=13, color="#111111"))
    layout_axes["xaxis" + k] = dict(domain=xdom, range=x_range, anchor=ya,
                                    tickvals=X_TICKS, **axis_common)
    layout_axes["yaxis" + k] = dict(domain=ydom, range=y_range, anchor=xa,
                                    tickvals=y_ticks, **axis_common)
    layout_axes["xaxis" + ko] = dict(domain=xdom, range=x_range, anchor=yo, overlaying=xa,
                                     visible=False, showgrid=False, zeroline=False)
    layout_axes["yaxis" + ko] = dict(domain=ydom, range=y_range, anchor=xo, overlaying=ya,
                                     visible=False, showgrid=False, zeroline=False)

    for p, lab in zip(BOX_X, labels):
        annotations.append(dict(x=p, xref=xa, y=0.914, yref=ya + " domain", text=lab,
                                showarrow=False, xanchor="center", yanchor="middle",
                                font=dict(family=FONT, size=13, color="#222222")))

    annotations.append(dict(x=px_x(YTITLE_X_PX[col]), xref="paper", y=0.5, yref=ya + " domain",
                            text=ytitle, textangle=-90, showarrow=False,
                            xanchor="center", yanchor="middle",
                            font=dict(family=FONT, size=11.8, color="#222222")))

for col in range(3):
    for text, ypx in zip([MAIN_TITLE, SEASONS[col]], TITLE_Y_PX):
        annotations.append(dict(x=px_x(TITLE_X_PX[col]), xref="paper", y=px_y(ypx), yref="paper",
                                text="<b>" + text + "</b>", showarrow=False,
                                xanchor="center", yanchor="middle",
                                font=dict(family=FONT, size=13.5, color="#111111")))

fig.update_layout(width=W, height=H, margin=dict(l=0, r=0, t=0, b=0),
                  paper_bgcolor="white", plot_bgcolor="white", showlegend=False,
                  boxmode="overlay", annotations=annotations, **layout_axes)

fig.write_html("out.html")
